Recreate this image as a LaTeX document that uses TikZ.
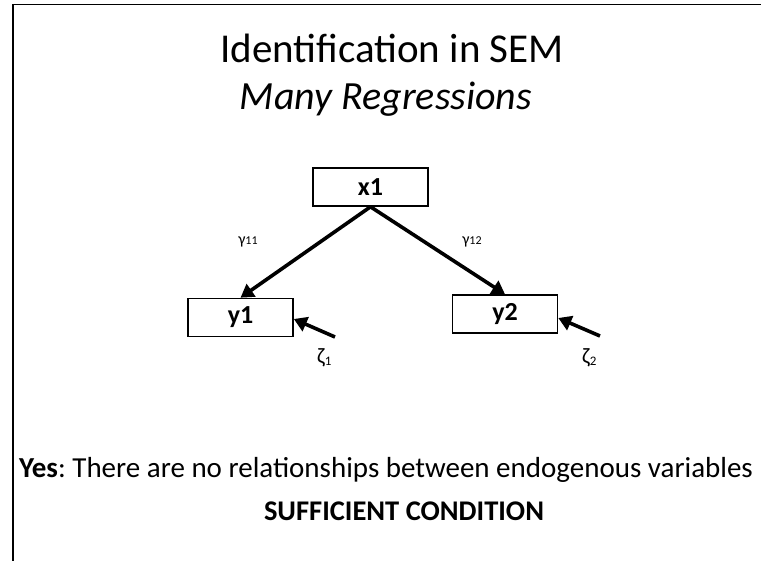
\documentclass[tikz,border=0pt]{standalone}
\usepackage{fontspec}
\setmainfont{Carlito}
\usetikzlibrary{arrows.meta}
\frenchspacing
\begin{document}
\begin{tikzpicture}[x=1pt,y=-1pt,
  varbox/.style={draw,line width=1.6pt,minimum width=#1,minimum height=38pt,inner sep=0pt,font=\fontsize{26}{28}\selectfont\bfseries},
  varbox/.default=105pt,
  path/.style={line width=3.6pt,-{Triangle[length=13pt,width=15pt]}},
  coef/.style={anchor=base,inner sep=0pt,font=\fontsize{16}{18}\selectfont},
  zeta/.style={anchor=base west,inner sep=0pt,font=\fontsize{22}{24}\selectfont},
  lbl/.style={anchor=base,inner sep=0pt,font=\fontsize{29}{33}\selectfont}]
\useasboundingbox (0,0) rectangle (761,561);
% slide frame
\draw[line width=1.6pt] (13,561) -- (13,4.5) -- (762,4.5);
% title
\node[anchor=base,inner sep=0pt,font=\fontsize{41}{46}\selectfont] (t1) at (392,63) {Identification in SEM};
\node[anchor=base,inner sep=0pt,font=\fontsize{40}{46}\selectfont\itshape] (t2) at (386,110) {Many Regressions};
% variables
\node[varbox=115pt] (x1) at (370.5,187) {x1};
\node[varbox] (y1) at (240.5,317.5) {y1};
\node[varbox] (y2) at (505,314) {y2};
% disturbance anchors
\coordinate (z1) at (335,337);
\coordinate (z2) at (600,336);
\node[zeta] (zl1) at (317,364) {ζ\raisebox{-2pt}{\fontsize{13}{14}\selectfont 1}};
\node[zeta] (zl2) at (582,364) {ζ\raisebox{-2pt}{\fontsize{13}{14}\selectfont 2}};
% paths
\draw[path] (x1.south) -- (y1.north);
\draw[path] (x1.south) -- (y2.north);
\draw[path] (z1) -- (y1.east |- 0,319);
\draw[path] (z2) -- (y2.east |- 0,318);
\node[coef] (g11) at (248,245) {γ{\fontsize{12}{14}\selectfont 11}};
\node[coef] (g12) at (472,245) {γ{\fontsize{12}{14}\selectfont 12}};
% statement
\node[lbl] (yes) at (386,477) {\textbf{Yes}: There are no relationships between endogenous variables};
\node[lbl,font=\fontsize{28.5}{33}\selectfont\bfseries] (suf) at (404,520) {SUFFICIENT CONDITION};
\end{tikzpicture}
\end{document}
